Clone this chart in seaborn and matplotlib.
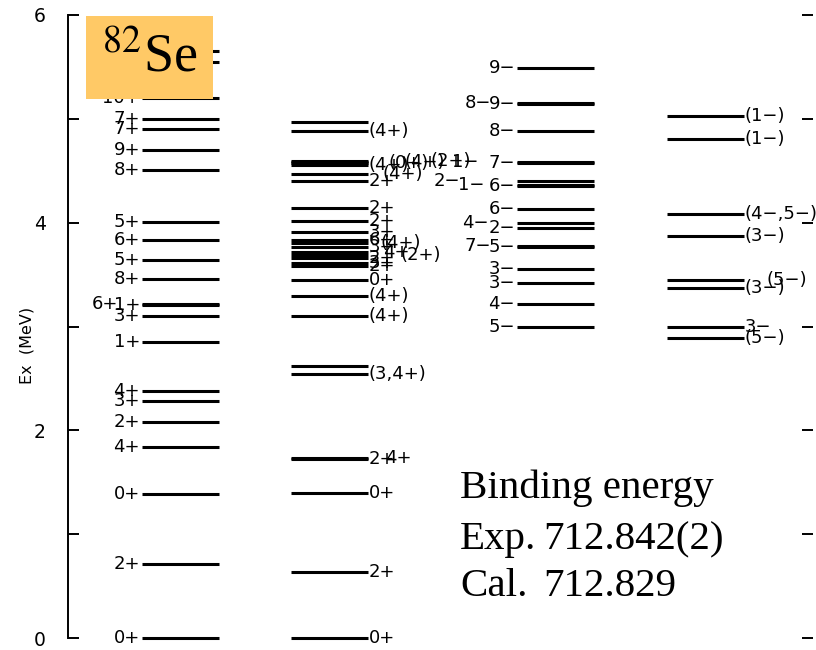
import numpy as np
import pandas as pd
import matplotlib
matplotlib.use("Agg")
import matplotlib.pyplot as plt
from matplotlib.patches import Rectangle
import seaborn as sns

# ---------------- data (excitation energies in MeV, spin-parity labels) -------------
col1_E = [0.00, 0.71, 1.39, 1.84, 2.08, 2.28, 2.38, 2.85, 3.10, 3.21, 3.22,
          3.46, 3.64, 3.83, 4.01, 4.51, 4.70, 4.90, 5.00, 5.20, 5.55, 5.65]
col1_lab = ["0+", "2+", "0+", "4+", "2+", "3+", "4+", "1+", "3+", "1+", "6+",
            "8+", "5+", "6+", "5+", "8+", "9+", "7+", "7+", "10+", "", ""]

col2_E = [0.00, 0.64, 1.40, 1.72, 1.73, 2.54, 2.62, 3.10, 3.29, 3.45,
          3.58, 3.61, 3.66, 3.69, 3.72, 3.77, 3.80, 3.83, 3.91, 4.02, 4.14,
          4.40, 4.47, 4.56, 4.57, 4.58, 4.59, 4.88, 4.97]
col2_lab = ["0+", "2+", "0+", "2+", "4+", "(3,4+)", "", "(4+)", "(4+)", "0+",
            "2+", "3+", "2+", "(2+)", "4+", "3+", "(4+)", "6+", "3+", "2+", "2+",
            "2+", "(4+)", "(4+)", "(0+)", "(4+)", "(2+)", "(4+)", ""]

col3_E = [3.00, 3.22, 3.42, 3.55, 3.77, 3.78, 3.95, 4.00, 4.13, 4.35, 4.36,
          4.40, 4.57, 4.58, 4.88, 5.14, 5.15, 5.49]
col3_lab = ["5−", "4−", "3−", "3−", "5−", "7−", "2−", "4−", "6−", "6−", "1−",
            "2−", "7−", "1−", "8−", "9−", "8−", "9−"]

col4_E = [2.89, 3.00, 3.37, 3.45, 3.87, 4.08, 4.81, 5.03]
col4_lab = ["(5−)", "3−", "(3−)", "(5−)", "(3−)", "(4−,5−)", "(1−)", "(1−)"]

yticks = [0, 1, 2, 3, 4, 5, 6]
ytick_labels = ["0", "", "2", "", "4", "", "6"]

binding_title = "Binding energy"
binding_rows = [("Exp.", "712.842(2)"), ("Cal.", "712.829")]
nucleus = r"$^{82}$Se"

# ---------------- layout (axes-fraction x positions, pixel label shifts) -------------
FW, FH = 816, 650
AX_L, AX_R, AX_T, AX_B = 68, 813, 15, 638
def px_x(p):
    return (p - AX_L) / (AX_R - AX_L)

col_starts = [142, 291, 517, 667]
col_width = 77
label_side = ["left", "right", "left", "right"]
# horizontal shifts (px) for crowded labels, keyed by (column, index)
shifts = {(0, 10): -22,
          (1, 4): 16, (1, 13): 32, (1, 14): 14, (1, 16): 12,
          (1, 24): 20, (1, 25): 36, (1, 26): 62, (1, 22): 14,
          (2, 5): -24, (2, 7): -26, (2, 10): -30, (2, 11): -55, (2, 13): -36, (2, 16): -24,
          (3, 3): 22}

cols = [(col1_E, col1_lab), (col2_E, col2_lab), (col3_E, col3_lab), (col4_E, col4_lab)]

rows = []
uid = 0
for ci, (E, lab) in enumerate(cols):
    x0 = px_x(col_starts[ci])
    x1 = px_x(col_starts[ci] + col_width)
    for e in E:
        rows.append({"x": x0, "E": e, "id": uid})
        rows.append({"x": x1, "E": e, "id": uid})
        uid += 1
df = pd.DataFrame(rows)

sns.set_theme(style="ticks")
plt.rcParams["font.family"] = ["DejaVu Sans"]
plt.rcParams["mathtext.fontset"] = "stix"
plt.rcParams["text.color"] = "black"
plt.rcParams["axes.labelcolor"] = "black"
plt.rcParams["xtick.color"] = "black"
plt.rcParams["ytick.color"] = "black"
plt.rcParams["axes.edgecolor"] = "black"

fig = plt.figure(figsize=(FW / 100, FH / 100), dpi=100)
ax = fig.add_axes([AX_L / FW, 1 - AX_B / FH, (AX_R - AX_L) / FW, (AX_B - AX_T) / FH])

sns.lineplot(data=df, x="x", y="E", units="id", estimator=None, sort=False,
             color="black", linewidth=2.2, ax=ax, legend=False)
for ln in ax.get_lines():
    ln.set_clip_on(False)
    ln.set_solid_capstyle("butt")

ax.set_xlim(0, 1)
ax.set_ylim(0, 6)

lab_fs = 13
for ci, (E, lab) in enumerate(cols):
    for i, (e, l) in enumerate(zip(E, lab)):
        if not l:
            continue
        dx = shifts.get((ci, i), 0)
        if label_side[ci] == "left":
            xp = col_starts[ci] - 2 + dx
            ha = "right"
        else:
            xp = col_starts[ci] + col_width + 1 + dx
            ha = "left"
        ax.text(px_x(xp), e, l, ha=ha, va="center", fontsize=lab_fs,
                color="black", clip_on=False, zorder=3)

# axes styling
ax.set_yticks(yticks)
ax.set_yticklabels(ytick_labels, fontsize=13.5)
ax.set_xticks([])
ax.set_xlabel("")
ax.set_ylabel("Ex  (MeV)", fontsize=11.5)
ax.yaxis.set_label_coords(-0.045, 0.47)
for s in ["top", "bottom", "right"]:
    ax.spines[s].set_visible(False)
ax.spines["left"].set_linewidth(1.4)
ax.tick_params(axis="y", direction="in", length=8, width=1.4, pad=16,
               left=True, right=True)

# nucleus label box
bx0, bx1, by0, by1 = 86, 213, 16, 99
ax.add_patch(Rectangle((px_x(bx0), 6 * (AX_B - by1) / (AX_B - AX_T)),
                       px_x(bx1) - px_x(bx0), 6 * (by1 - by0) / (AX_B - AX_T),
                       facecolor="#FFC966", edgecolor="none", zorder=5,
                       clip_on=False))
fig.text(150 / FW, 1 - 59 / FH, nucleus, fontsize=39, ha="center", va="center",
         family="Liberation Serif", zorder=6)

# binding energy text
bfs = 29.5
fig.text(460 / FW, 1 - 488 / FH, binding_title, fontsize=bfs, ha="left",
         va="center", family="Liberation Serif")
for k, (a, b) in enumerate(binding_rows):
    yy = 1 - (540 + 46 * k) / FH
    fig.text(460 / FW, yy, a, fontsize=bfs, ha="left", va="center",
             family="Liberation Serif")
    fig.text(543 / FW, yy, b, fontsize=bfs, ha="left", va="center",
             family="Liberation Serif")

fig.savefig("out.png", dpi=100)
